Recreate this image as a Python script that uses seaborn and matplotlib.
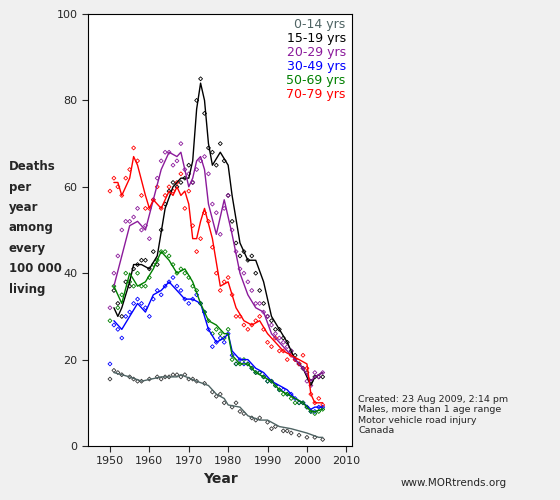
import matplotlib
matplotlib.use("Agg")
import matplotlib.pyplot as plt
import seaborn as sns
import pandas as pd

sns.set_style("ticks")
plt.rcParams['font.family'] = ['DejaVu Sans']

labels = ["0-14 yrs", "15-19 yrs", "20-29 yrs", "30-49 yrs", "50-69 yrs", "70-79 yrs"]
colors = ["#4f6464", "#000000", "#8b1a9b", "#0000ff", "#008000", "#ff0000"]
mcolors = ["#333333", "#000000", "#8b1a9b", "#0000ff", "#008000", "#ff0000"]

y_0_14 = [1951,1955,1958,1963,1967,1968,1972,1975,1977,1979,1980,1983,1985,1988,1990,1993,1996,2000,2003,2004]
v_0_14 = [17,16,15,16,16,16.5,15,14,12,11,9.5,9,7,6,6,4.5,4,3,2,2]
y_15_19 = [1951,1952,1953,1955,1956,1958,1960,1962,1964,1966,1968,1970,1971,1972,1973,1974,1975,1976,1978,1980,1981,1983,1985,1987,1989,1991,1993,1995,1997,1999,2001,2002,2004]
v_15_19 = [32,30,32,38,42,42,41,44,55,60,62,62,66,78,84,80,70,65,68,65,58,47,43,43,38,30,27,24,20,18,14,16,17]
y_20_29 = [1951,1953,1955,1957,1959,1961,1963,1965,1967,1968,1969,1970,1971,1972,1973,1974,1975,1977,1979,1981,1983,1985,1987,1989,1991,1993,1995,1997,1999,2001,2002,2004]
v_20_29 = [37,44,51,52,50,57,64,68,67,68,64,60,62,66,67,64,56,49,57,49,40,35,32,31,26,24,22,20,18,15,16,17]
y_30_49 = [1951,1953,1955,1957,1959,1961,1963,1965,1967,1969,1971,1973,1975,1977,1979,1980,1981,1983,1985,1987,1989,1991,1993,1995,1997,1999,2001,2002,2004]
v_30_49 = [29,27,30,33,31,35,36,38,36,34,34,33,27,24,25,26,22,20,20,18,17,15,14,13,11,10,8.5,9,9]
y_50_69 = [1951,1953,1955,1957,1959,1961,1963,1965,1967,1969,1971,1973,1975,1977,1979,1980,1981,1983,1985,1987,1989,1991,1993,1995,1997,1999,2001,2002,2004]
v_50_69 = [37,33,40,37,38,41,45,43,40,41,38,33,29,28,26,26,21,19,19,17,16,15,13,12,11,10,8,8,8.5]
y_70_79 = [1951,1952,1953,1955,1956,1957,1959,1960,1961,1963,1965,1966,1967,1968,1969,1970,1971,1972,1973,1974,1976,1978,1980,1982,1984,1986,1988,1990,1992,1994,1996,1998,2000,2001,2002,2004]
v_70_79 = [61,61,58,62,67,65,58,55,57,55,59,58,60,58,59,56,48,48,52,55,48,37,38,32,29,28,29,26,24,22,21,20,19,12,10,10]

# observed (scatter) points
p_0_14 = [15.5,17.5,17,16.5,16,15.5,15,15,15.5,16,15.5,16,16,16.5,16.5,16,16.5,15.5,15.5,15,14.5,12.5,11.5,12,10,9,10,8,7.5,6.5,6,6.5,5.5,4,4.5,3.5,3.5,3,2.5,2,2,1.5]
py_0_14 = [1950,1951,1952,1953,1955,1956,1957,1958,1960,1962,1963,1964,1965,1966,1967,1968,1969,1970,1971,1972,1974,1976,1977,1978,1979,1981,1982,1983,1984,1986,1987,1988,1990,1991,1992,1994,1995,1996,1998,2000,2002,2004]
yrs_p = [1950,1951,1952,1953,1954,1955,1956,1957,1958,1959,1960,1961,1962,1963,1964,1965,1966,1967,1968,1969,1970,1971,1972,1973,1974,1975,1976,1977,1978,1979,1980,1981,1982,1983,1984,1985,1986,1987,1988,1989,1990,1991,1992,1993,1994,1995,1996,1997,1998,1999,2000,2001,2002,2003,2004]
p_15_19 = [None,36,33,30,38,37,41,42,43,43,41,45,42,50,56,59,61,60,61,62,65,61,80,85,77,69,68,65,70,66,58,52,47,44,45,43,44,40,36,33,30,29,27,27,25,24,22,21,19,18,17,15,16,16,16]
p_20_29 = [32,40,44,50,52,52,53,55,50,51,48,57,62,66,68,68,65,66,70,64,63,61,64,66,67,63,56,54,49,55,58,50,45,41,40,38,36,33,33,31,30,28,26,25,24,23,22,20,19,18,15,14,17,16,17]
p_30_49 = [19,28,27,25,30,31,33,34,33,32,30,34,36,35,37,38,39,37,36,34,33,34,35,33,31,27,23,24,25,24,26,21,19,20,19,19,18,17,17,16,15,15,14,13,13,12,12,11,10,10,9,8,8,9,9]
p_50_69 = [29,37,32,35,40,38,37,40,37,37,39,42,43,45,45,44,42,40,41,40,39,37,36,33,31,29,26,27,26,25,27,20,19,19,20,19,18,17,17,16,15,15,14,13,12,12,11,10,10,10,9,8,7.5,8,8.5]
p_70_79 = [59,62,60,58,62,64,69,66,58,55,55,57,60,55,58,60,59,61,63,55,59,51,45,48,54,52,46,40,36,38,39,35,30,30,28,27,28,29,30,27,24,23,25,22,22,20,21,20,19,21,18,12,10,11,9.5]

lines = [(y_0_14, v_0_14), (y_15_19, v_15_19), (y_20_29, v_20_29),
         (y_30_49, v_30_49), (y_50_69, v_50_69), (y_70_79, v_70_79)]
points = [(py_0_14, p_0_14), (yrs_p, p_15_19), (yrs_p, p_20_29),
          (yrs_p, p_30_49), (yrs_p, p_50_69), (yrs_p, p_70_79)]

fig = plt.figure(figsize=(5.6, 5.0), dpi=100, facecolor="#f0f0f0")
ax = fig.add_axes([0.157, 0.108, 0.472, 0.864])
ax.set_facecolor("white")

for (ly, lv), (px, pv), c, mc in zip(lines, points, colors, mcolors):
    df = pd.DataFrame({"x": px, "y": pv}).dropna()
    sns.scatterplot(data=df, x="x", y="y", ax=ax, marker="D", s=4, facecolor="none",
                    edgecolor=mc, linewidth=0.6)
    sns.lineplot(x=ly, y=lv, ax=ax, color=c, linewidth=1.0)

ax.set_xlim(1944.4, 2011.5)
ax.set_ylim(0, 100)
ax.set_xticks(range(1950, 2011, 10))
ax.set_yticks(range(0, 101, 20))
ax.tick_params(labelsize=8, length=4)
ax.set_xlabel("Year", fontsize=10, fontweight="bold")
ax.set_ylabel("")
for s in ax.spines.values():
    s.set_color("black"); s.set_linewidth(0.8)

for i, (lab, c) in enumerate(zip(labels, colors)):
    ax.text(0.975, 0.99 - i * 0.0322, lab, color=c, fontsize=9, ha="right", va="top",
            transform=ax.transAxes)

fig.text(0.016, 0.68, "Deaths\nper\nyear\namong\nevery\n100 000\nliving", fontsize=8.5,
         fontweight="bold", va="top", ha="left", linespacing=1.75)
fig.text(0.64, 0.21, "Created: 23 Aug 2009, 2:14 pm\nMales, more than 1 age range\nMotor vehicle road injury\nCanada",
         fontsize=6.8, va="top", ha="left", linespacing=1.2)
fig.text(0.715, 0.035, "www.MORtrends.org", fontsize=7.5, ha="left", va="center")

fig.savefig("out.png", dpi=100, facecolor=fig.get_facecolor())
